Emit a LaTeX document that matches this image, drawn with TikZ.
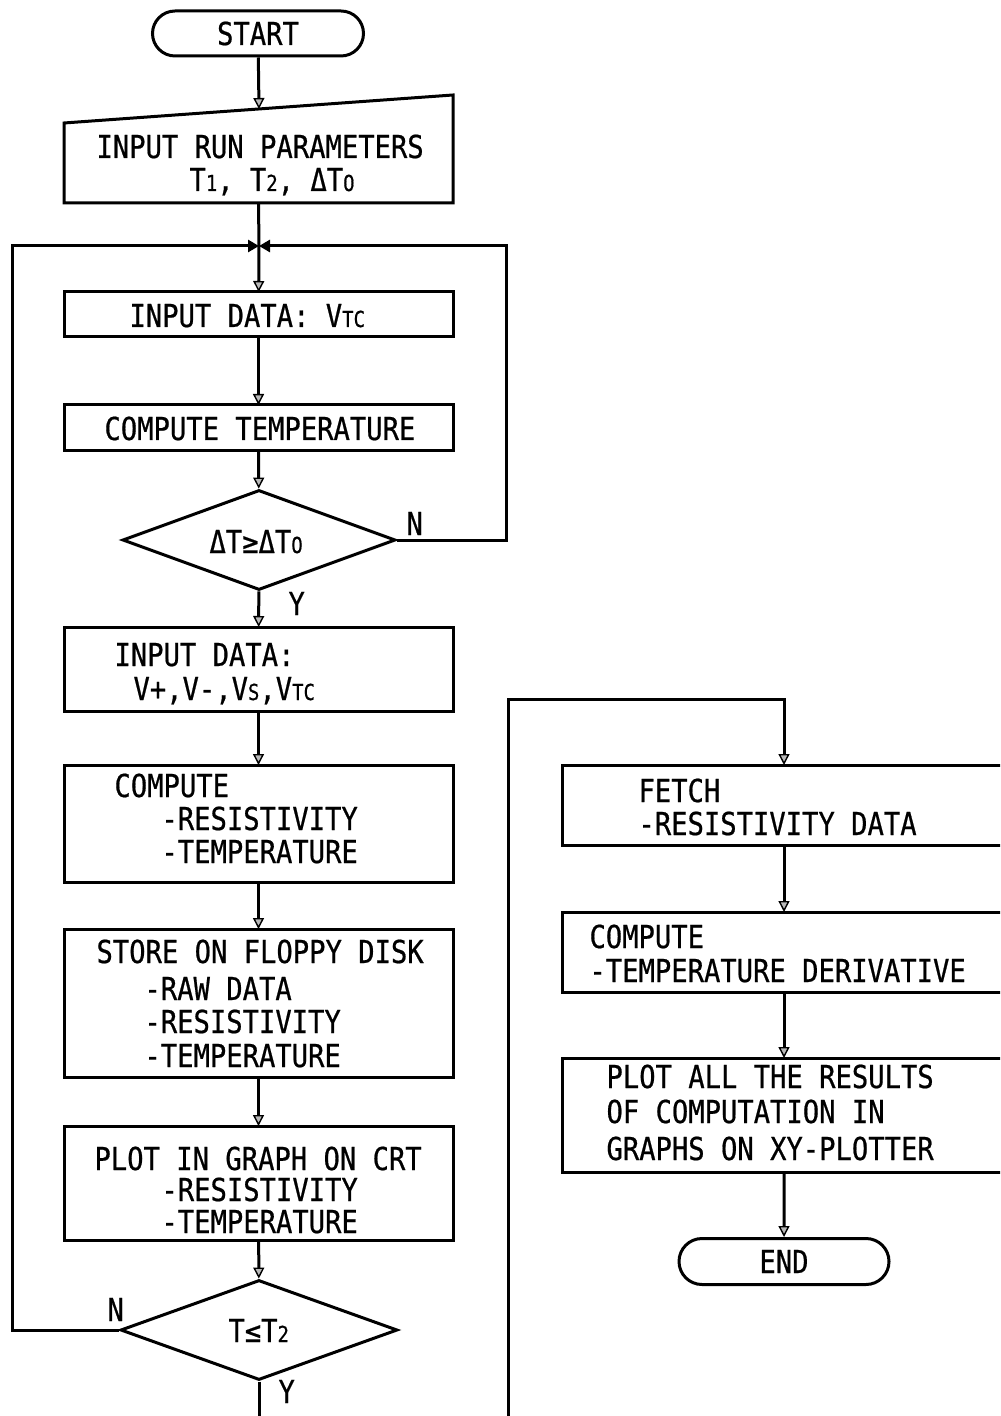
\documentclass[tikz,border=0pt]{standalone}
\usepackage{fontspec}
\usetikzlibrary{arrows.meta,shapes.geometric,shapes.misc,calc}
\newfontfamily\plotfont[FakeStretch=0.86,FakeBold=0.6]{DejaVu Sans Mono}
% small index letters that sit on the baseline (T1, VTC, ...)
\newcommand\sml[1]{{\fontsize{11pt}{11pt}\selectfont #1}}

\begin{document}
\begin{tikzpicture}[x=0.5pt,y=-0.5pt,
  line width=1.5pt,
  box/.style={draw, rectangle, inner sep=0pt, outer sep=0pt, anchor=north west},
  term/.style={draw, rounded rectangle, inner sep=0pt,
    font=\plotfont\fontsize{15.8pt}{18pt}\selectfont},
  decision/.style={draw, diamond, inner sep=0pt},
  txt/.style={font=\plotfont\fontsize{15.8pt}{18pt}\selectfont,
    inner sep=0pt, anchor=base west},
  flow/.style={-{Triangle[length=5.5pt,width=5.5pt,fill=gray!55,line width=0.7pt]}},
  meet/.style={-{Triangle[length=5.5pt,width=6pt]}},
]
\useasboundingbox (0,0) rectangle (1000,1416);
\clip (0,0) rectangle (1000,1416);

% ---------- main loop column ----------
\node[term, minimum width=105.5pt, minimum height=22.5pt] (start) at (258,33.5) {START};

\node[box, draw=none, minimum width=194.5pt, minimum height=54pt] (params) at (64,95) {};
\draw (params.south west) -- (params.south east) -- (params.north east)
      -- ([yshift=-14pt]params.north west) -- cycle;
\coordinate (pin) at (259,109);
\node[txt] (params1) at (95,158) {INPUT RUN PARAMETERS};
\node[txt] (params2) at (188,191) {T\sml{1}, T\sml{2}, ΔT\sml{O}};

\coordinate (merge) at (259,246);
\coordinate (lloop) at (12,246);
\coordinate (rloop) at (506,246);

\node[box, minimum width=194.5pt, minimum height=22.5pt] (b1) at (64,292) {};
\node[txt] (b1t) at (128,327) {INPUT DATA: V\sml{TC}};

\node[box, minimum width=194.5pt, minimum height=23pt] (b2) at (64,405) {};
\node[txt] (b2t) at (103,440) {COMPUTE TEMPERATURE};

\node[decision, minimum width=136.5pt, minimum height=50pt] (d1) at (259,540) {};
\node[txt] (d1t) at (208,553) {ΔT≥ΔT\sml{O}};
\node[txt] (d1n) at (405,535) {N};
\node[txt] (d1y) at (287,615) {Y};

\node[box, minimum width=194.5pt, minimum height=42pt] (b3) at (64,627) {};
\node[txt] (b3a) at (113,666) {INPUT DATA:};
\node[txt] (b3b) at (132,700) {V+,V-,V\sml{S},V\sml{TC}};

\node[box, minimum width=194.5pt, minimum height=58.5pt] (b4) at (64,765) {};
\node[txt] (b4a) at (113,797) {COMPUTE};
\node[txt] (b4b) at (160,830) {-RESISTIVITY};
\node[txt] (b4c) at (160,863) {-TEMPERATURE};

\node[box, minimum width=194.5pt, minimum height=74pt] (b5) at (64,929) {};
\node[txt] (b5a) at (95,963) {STORE ON FLOPPY DISK};
\node[txt] (b5b) at (143,1000) {-RAW DATA};
\node[txt] (b5c) at (143,1033) {-RESISTIVITY};
\node[txt] (b5d) at (143,1067) {-TEMPERATURE};

\node[box, minimum width=194.5pt, minimum height=57pt] (b6) at (64,1126) {};
\node[txt] (b6a) at (93,1170) {PLOT IN GRAPH ON CRT};
\node[txt] (b6b) at (160,1201) {-RESISTIVITY};
\node[txt] (b6c) at (160,1233) {-TEMPERATURE};

\node[decision, minimum width=138.5pt, minimum height=50pt] (d2) at (259,1330) {};
\node[txt] (d2t) at (227,1342) {T≤T\sml{2}};
\node[txt] (d2n) at (106,1321) {N};
\node[txt] (d2y) at (277,1403) {Y};
\coordinate (bot) at (259,1416);

% ---------- evaluation column ----------
\coordinate (rbot) at (508,1416);
\coordinate (rtop) at (508,699);

\node[box, minimum width=222pt, minimum height=40pt] (fetch) at (562,765) {};
\node[txt] (fetcha) at (637,802) {FETCH};
\node[txt] (fetchb) at (637,835) {-RESISTIVITY DATA};

\node[box, minimum width=222pt, minimum height=40pt] (comp) at (562,912) {};
\node[txt] (compa) at (588,948) {COMPUTE};
\node[txt] (compb) at (588,982) {-TEMPERATURE DERIVATIVE};

\node[box, minimum width=222pt, minimum height=57pt] (plotall) at (562,1058) {};
\node[txt] (plota) at (605,1088) {PLOT ALL THE RESULTS};
\node[txt] (plotb) at (605,1123) {OF COMPUTATION IN};
\node[txt] (plotc) at (605,1160) {GRAPHS ON XY-PLOTTER};

\node[term, minimum width=105pt, minimum height=23pt] (endn) at (784,1261.5) {END};

% ---------- connectors ----------
\draw[flow] (start) -- (pin);
\draw (params.south) -- (merge);
\draw[flow] (merge) -- (b1);
\draw[flow] (b1) -- (b2);
\draw[flow] (b2) -- (d1);
\draw[flow] (d1) -- (b3);
\draw[flow] (b3) -- (b4);
\draw[flow] (b4) -- (b5);
\draw[flow] (b5) -- (b6);
\draw[flow] (b6) -- (d2);
\draw (d2.south) -- (bot);
\draw[meet] (d1.east) -| (rloop) -- (merge);
\draw[meet] (d2.west) -| (lloop) -- (merge);

\draw[flow] (rbot) -- (rtop) -| (fetch.north);
\draw[flow] (fetch) -- (comp);
\draw[flow] (comp) -- (plotall);
\draw[flow] (plotall) -- (endn);
\end{tikzpicture}
\end{document}
